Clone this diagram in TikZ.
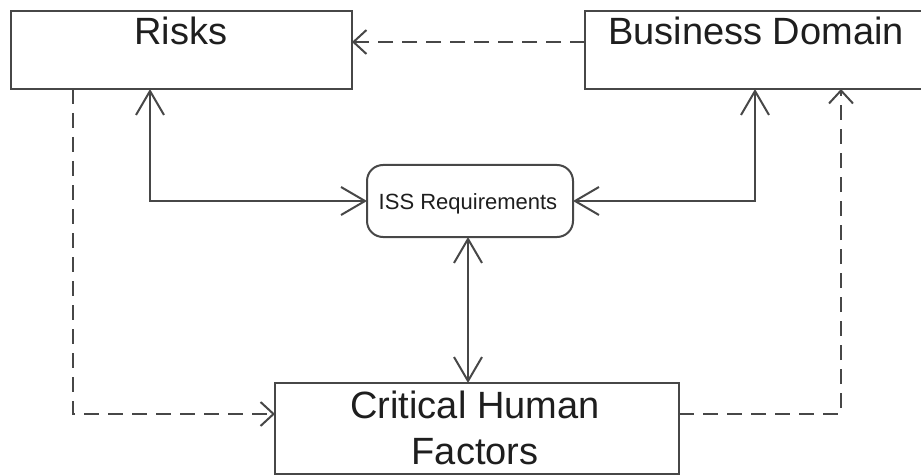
\documentclass[tikz,border=0pt]{standalone}
\usepackage{fontspec}
\setmainfont{Liberation Sans}
\usetikzlibrary{arrows.meta}
\definecolor{linegray}{HTML}{474747}
\definecolor{textgray}{HTML}{1E1E1E}
\tikzset{
  box/.style={draw=linegray, line width=2pt, rectangle, inner sep=0pt, outer sep=0pt, fill=white},
  roundbox/.style={box, rounded corners=16pt},
  lbl/.style={text=textgray, inner sep=0pt, anchor=base},
  solidlink/.style={draw=linegray, line width=2pt, {Straight Barb[length=24pt,width=28pt]}-{Straight Barb[length=24pt,width=28pt]}},
  dashlink/.style={draw=linegray, line width=2pt, dash pattern=on 15pt off 9pt, -{Straight Barb[length=13pt,width=24pt]}}
}
\begin{document}
\begin{tikzpicture}[x=1pt,y=-1pt]
\useasboundingbox (0,0) rectangle (921,476);
\node[box, minimum width=341pt, minimum height=78pt] (risks) at (181.5,50) {};
\node[box, minimum width=340pt, minimum height=78pt] (bd) at (755,50) {};
\node[roundbox, minimum width=206pt, minimum height=72pt] (iss) at (470,201) {};
\node[box, minimum width=404pt, minimum height=91pt] (chf) at (477,428.5) {};
\node[lbl, font=\fontsize{38}{46}\selectfont] (risksT) at (181,45) {Risks};
\node[lbl, font=\fontsize{38}{46}\selectfont] (bdT) at (756,45) {Business Domain};
\node[lbl, font=\fontsize{22}{26}\selectfont] (issT) at (468,209) {ISS Requirements};
\node[lbl, font=\fontsize{38}{46}\selectfont] (chfT1) at (475,418) {Critical Human};
\node[lbl, font=\fontsize{38}{46}\selectfont] (chfT2) at (475,464) {Factors};
% dashed connectors
\draw[dashlink] ([yshift=-31pt]bd.north west) -- ([yshift=-31pt]risks.north east);
\draw[dashlink] ([xshift=62pt]risks.south west) |- ([yshift=-31pt]chf.north west);
\draw[dashlink] ([yshift=-31pt]chf.north east) -| ([xshift=256pt]bd.south west);
% solid connectors
\draw[solidlink] ([xshift=139pt]risks.south west) |- (iss.west);
\draw[solidlink] ([xshift=170pt]bd.south west) |- (iss.east);
\draw[solidlink] ([xshift=-2pt]iss.south) -- ([xshift=-2pt]iss.south |- chf.north);
\end{tikzpicture}
\end{document}
